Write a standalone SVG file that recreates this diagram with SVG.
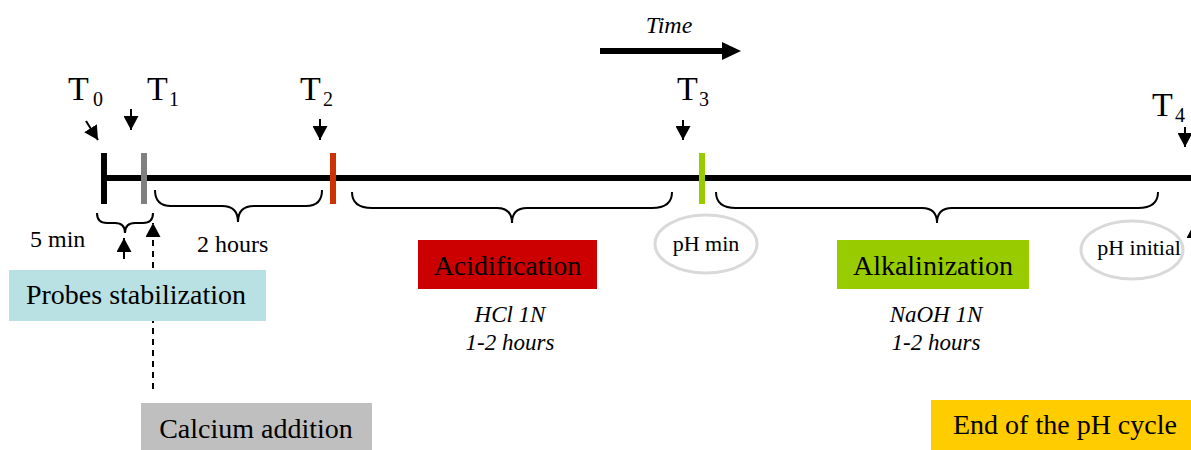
<svg xmlns="http://www.w3.org/2000/svg" width="1191" height="450" viewBox="0 0 1191 450">
<defs>
<style>
text{font-family:"Liberation Serif","Times New Roman",serif;fill:#000}
.big{font-size:34px}
.sub{font-size:20px}
.lbl{font-size:24px}
.ph{font-size:22px}
.box{font-size:28px}
.it{font-style:italic;font-size:23px}
.brace{fill:none;stroke:#000;stroke-width:2}
.arr{stroke:#000;stroke-width:2;fill:none}
.ell{fill:#fff;stroke:#d9d9d9;stroke-width:3}
</style>
<marker id="ah" markerUnits="userSpaceOnUse" markerWidth="14" markerHeight="15" viewBox="0 0 14 15" refX="14" refY="7.5" orient="auto"><path d="M0,0 L14,7.5 L0,15 z" fill="#000"/></marker>
</defs>
<rect width="1191" height="450" fill="#fff"/>

<g id="time-arrow">
<text x="669" y="33" text-anchor="middle" style="font-style:italic;font-size:24px">Time</text>
<line x1="600" y1="51" x2="724" y2="51" stroke="#000" stroke-width="6"/>
<polygon points="722,42 741,51 722,60" fill="#000"/>
</g>

<g id="timeline">
<line x1="104" y1="178" x2="1191" y2="178" stroke="#000" stroke-width="6"/>
</g>

<g id="T0">
<rect x="101" y="153" width="6" height="51" fill="#000"/>
<text x="68" y="100" class="big">T</text><text x="93" y="106" class="sub">0</text>
</g>
<g id="T1">
<rect x="141" y="153" width="6" height="51" fill="#808080"/>
<text x="147" y="100" class="big">T</text><text x="169" y="106" class="sub">1</text>
</g>
<g id="T2">
<rect x="330" y="153" width="6" height="51" fill="#cc3300"/>
<text x="300" y="100" class="big">T</text><text x="323" y="106" class="sub">2</text>
</g>
<g id="T3">
<rect x="699" y="153" width="6" height="51" fill="#99cc00"/>
<text x="677" y="100" class="big">T</text><text x="699" y="106" class="sub">3</text>
</g>
<g id="T4">
<text x="1152" y="116" class="big">T</text><text x="1175" y="122" class="sub">4</text>
</g>

<g id="connectors">
<line class="arr" x1="86" y1="121" x2="98" y2="140" marker-end="url(#ah)"/>
<line class="arr" x1="131" y1="109" x2="131" y2="130" marker-end="url(#ah)"/>
<line class="arr" x1="320" y1="119" x2="320" y2="140" marker-end="url(#ah)"/>
<line class="arr" x1="683" y1="120" x2="683" y2="140" marker-end="url(#ah)"/>
<line class="arr" x1="1185" y1="127" x2="1185" y2="147" marker-end="url(#ah)"/>
<line class="arr" x1="124" y1="259" x2="124" y2="238" marker-end="url(#ah)"/>
<line class="arr" x1="153" y1="389" x2="153" y2="223" stroke-dasharray="6,5" marker-end="url(#ah)"/>
<line class="arr" x1="1194" y1="400" x2="1194" y2="224" marker-end="url(#ah)"/>
</g>

<g id="braces">
<path class="brace" d="M97,213 Q97,223 107,223 L115,223 Q125,223 125,233 Q125,223 135,223 L143,223 Q153,223 153,213"/>
<path class="brace" d="M155,190 Q155,206 171,206 L222,206 Q238,206 238,222 Q238,206 254,206 L306,206 Q322,206 322,190"/>
<path class="brace" d="M352,192 Q352,208 372,208 L497,208 Q512,208 512,223 Q512,208 527,208 L652,208 Q672,208 672,192"/>
<path class="brace" d="M716,192 Q716,208 736,208 L922,208 Q937,208 937,223 Q937,208 952,208 L1138,208 Q1158,208 1158,192"/>
</g>

<g id="duration-labels">
<text x="30" y="247" class="lbl">5 min</text>
<text x="197" y="252" class="lbl">2 hours</text>
</g>

<g id="probes">
<rect x="9" y="270" width="257" height="51" fill="#b9e0e3"/>
<text x="136" y="304" class="box" text-anchor="middle">Probes stabilization</text>
</g>

<g id="calcium">
<rect x="141" y="403" width="231" height="47" fill="#bfbfbf"/>
<text x="256" y="438" class="box" text-anchor="middle">Calcium addition</text>
</g>

<g id="acidification">
<rect x="418" y="240" width="179" height="49" fill="#cc0000"/>
<text x="507.5" y="275" class="box" text-anchor="middle">Acidification</text>
<text x="510" y="322" class="it" text-anchor="middle">HCl 1N</text>
<text x="510" y="350" class="it" text-anchor="middle">1-2 hours</text>
</g>

<g id="ph-min">
<ellipse class="ell" cx="706" cy="244" rx="51" ry="29"/>
<text x="706" y="251" class="ph" text-anchor="middle">pH min</text>
</g>

<g id="alkalinization">
<rect x="837" y="240" width="192" height="49" fill="#99cc00"/>
<text x="933" y="275" class="box" text-anchor="middle">Alkalinization</text>
<text x="936" y="322" class="it" text-anchor="middle">NaOH 1N</text>
<text x="936" y="350" class="it" text-anchor="middle">1-2 hours</text>
</g>

<g id="ph-initial">
<ellipse class="ell" cx="1132" cy="250" rx="51" ry="29"/>
<text x="1139" y="255" class="ph" text-anchor="middle">pH initial</text>
</g>

<g id="end-cycle">
<rect x="931" y="400" width="260" height="50" fill="#ffcc00"/>
<text x="953" y="434" class="box">End of the pH cycle</text>
</g>
</svg>
